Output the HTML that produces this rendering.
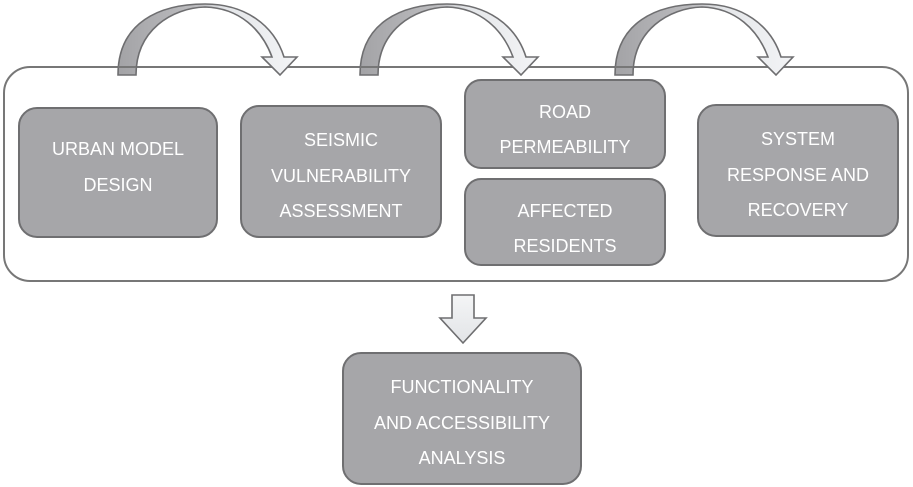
<!DOCTYPE html>
<html><head><style>body{margin:0;background:#fff}svg{display:block}text{font-family:"Liberation Sans",sans-serif;font-size:18px;fill:#fff;text-anchor:middle}</style></head>
<body>
<svg width="913" height="487" viewBox="0 0 913 487" xmlns="http://www.w3.org/2000/svg">
<defs>
<linearGradient id="g" x1="0" x2="1" y1="0" y2="0"><stop offset="0" stop-color="#a3a3a6"/><stop offset="0.45" stop-color="#bdbdc0"/><stop offset="0.6" stop-color="#e4e6e9"/><stop offset="1" stop-color="#f3f4f6"/></linearGradient>
<linearGradient id="gd" x1="0" x2="0" y1="0" y2="1"><stop offset="0" stop-color="#f4f5f6"/><stop offset="1" stop-color="#e2e4e7"/></linearGradient>
</defs>
<rect x="4" y="67" width="904" height="214" rx="26" fill="#fff" stroke="#777" stroke-width="2"/>
<g stroke="#6e6e70" stroke-width="1.6" fill="url(#g)">
<path d="M118,75 C118,22 160,4 205,4 C245,4 274,25 284,57 L297,57 L280,75 L262,57 L272,57 C262,30 240,8 205,7 C172,8 136,30 136,75 Z"/>
<path d="M360,75 C360,22 402,4 447,4 C487,4 516,25 526,57 L538,57 L521,75 L503,57 L513,57 C503,30 481,8 447,7 C414,8 378,30 378,75 Z"/>
<path d="M615,75 C615,22 657,4 702,4 C742,4 771,25 781,57 L793,57 L776,75 L758,57 L768,57 C758,30 736,8 702,7 C669,8 633,30 633,75 Z"/>
</g>
<line x1="118" y1="67" x2="136" y2="67" stroke="#777" stroke-width="2"/>
<line x1="360" y1="67" x2="378" y2="67" stroke="#777" stroke-width="2"/>
<line x1="615" y1="67" x2="633" y2="67" stroke="#777" stroke-width="2"/>
<path d="M452,295 L474,295 L474,318 L486,318 L463,343 L440,318 L452,318 Z" fill="url(#gd)" stroke="#6e6e70" stroke-width="1.6"/>
<g fill="#a6a6a9" stroke="#6f6f71" stroke-width="2">
<rect x="19" y="108" width="198" height="129" rx="18"/>
<rect x="241" y="106" width="200" height="131" rx="18"/>
<rect x="465" y="80" width="200" height="88" rx="16"/>
<rect x="465" y="179" width="200" height="86" rx="16"/>
<rect x="698" y="105" width="200" height="131" rx="18"/>
<rect x="343" y="353" width="238" height="131" rx="18"/>
</g>
<text x="118" y="155">URBAN MODEL</text>
<text x="118" y="191">DESIGN</text>
<text x="341" y="146">SEISMIC</text>
<text x="341" y="182">VULNERABILITY</text>
<text x="341" y="217">ASSESSMENT</text>
<text x="565" y="118">ROAD</text>
<text x="565" y="153">PERMEABILITY</text>
<text x="565" y="217">AFFECTED</text>
<text x="565" y="252">RESIDENTS</text>
<text x="798" y="145">SYSTEM</text>
<text x="798" y="181">RESPONSE AND</text>
<text x="798" y="216">RECOVERY</text>
<text x="462" y="393">FUNCTIONALITY</text>
<text x="462" y="429">AND ACCESSIBILITY</text>
<text x="462" y="464">ANALYSIS</text>
</svg>
</body></html>
